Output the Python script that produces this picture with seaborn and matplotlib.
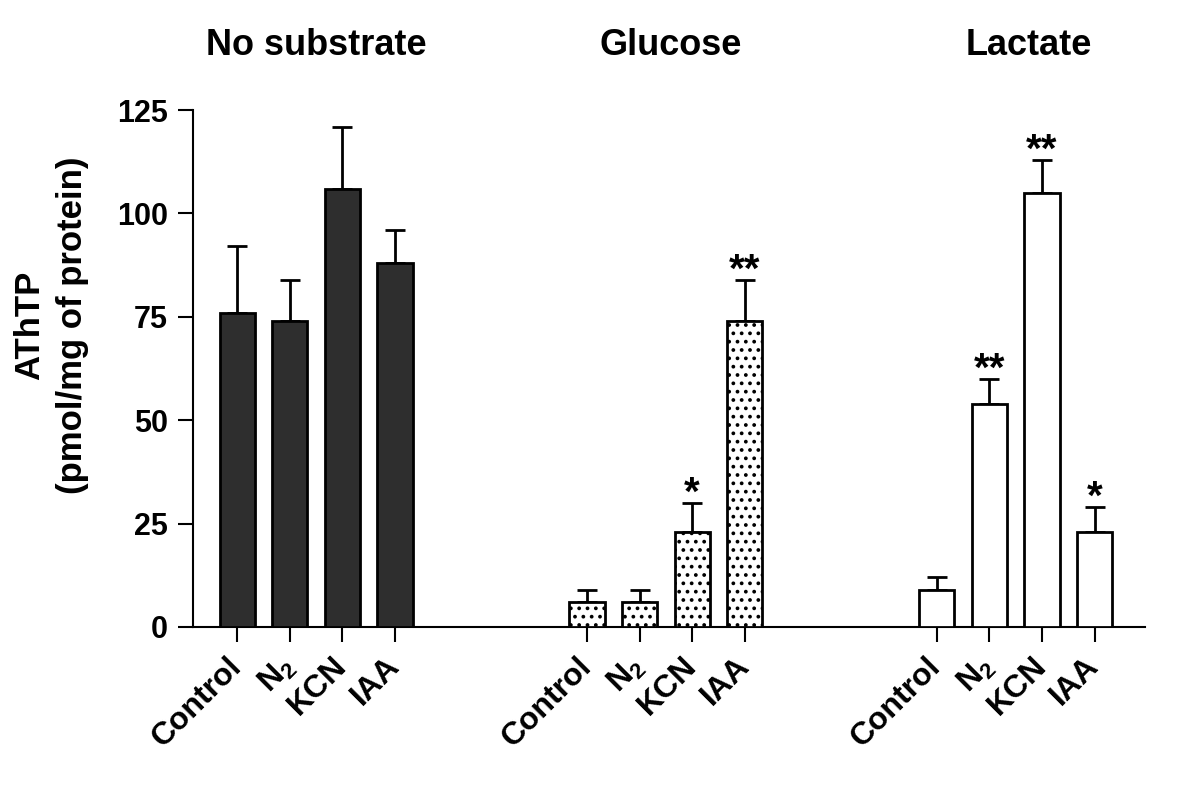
import seaborn as sns
import matplotlib.pyplot as plt
import matplotlib.transforms as mtransforms
import numpy as np
import pandas as pd

sns.set_style("ticks")
plt.rcParams['font.family'] = ['Liberation Sans', 'DejaVu Sans']
plt.rcParams['font.weight'] = 'bold'
plt.rcParams['mathtext.fontset'] = 'custom'
plt.rcParams['mathtext.bf'] = 'Liberation Sans:bold'
plt.rcParams['mathtext.rm'] = 'Liberation Sans:bold'
plt.rcParams['hatch.linewidth'] = 1.5
for key in ['text.color', 'axes.labelcolor', 'xtick.color', 'ytick.color', 'axes.edgecolor']:
    plt.rcParams[key] = 'black'

# data
groups = ["No substrate", "Glucose", "Lactate"]
treatments = ["Control", r"$\mathbf{N_2}$", "KCN", "IAA"]
no_substrate = [76, 74, 106, 88]
no_substrate_err = [16, 10, 15, 8]
glucose = [6, 6, 23, 74]
glucose_err = [3, 3, 7, 10]
lactate = [9, 54, 105, 23]
lactate_err = [3, 6, 8, 6]
glucose_stars = ["", "", "*", "**"]
lactate_stars = ["", "**", "**", "*"]

# layout
group_offsets = [0, 6.65, 13.3]
title_x = [1.5, 8.25, 15.05]
bar_colors = ["#2e2e2e", "white", "white"]
bar_hatches = [None, "..", None]

means = [no_substrate, glucose, lactate]
errs = [no_substrate_err, glucose_err, lactate_err]
stars = [["", "", "", ""], glucose_stars, lactate_stars]

fig = plt.figure(figsize=(12, 7.88), dpi=100)
ax = fig.add_axes([193 / 1200, 161 / 788, 952 / 1200, 517 / 788])

all_pos = []
for g, off in enumerate(group_offsets):
    pos = np.arange(len(treatments)) + off
    all_pos.extend(pos)
    df = pd.DataFrame({"pos": pos, "value": means[g]})
    sns.barplot(data=df, x="pos", y="value", native_scale=True, ax=ax,
                color=bar_colors[g], edgecolor="black", linewidth=2,
                width=0.67, errorbar=None, hatch=bar_hatches[g],
                saturation=1, zorder=3)
    ax.errorbar(pos, means[g], yerr=[np.zeros(len(pos)), errs[g]], fmt="none",
                ecolor="black", elinewidth=2, capsize=7, capthick=2, zorder=2)
    for x, m, e, s in zip(pos, means[g], errs[g], stars[g]):
        if s:
            ax.annotate(s, (x, m + e), xytext=(0, -7), textcoords="offset points",
                        ha="center", va="bottom", fontsize=29, fontweight="bold")

trans = mtransforms.blended_transform_factory(ax.transData, ax.transAxes)
for name, tx in zip(groups, title_x):
    ax.text(tx, 1.124, name, transform=trans, ha="center", va="center",
            fontsize=26, fontweight="bold")

ax.set_xlim(-0.84, 17.26)
ax.set_ylim(0, 125)
ax.set_yticks([0, 25, 50, 75, 100, 125])
ax.set_xticks(all_pos)
ax.set_xticklabels(treatments * 3, rotation=45, ha="right", va="center",
                   rotation_mode="anchor", fontsize=23, fontweight="bold")
ax.tick_params(axis="y", labelsize=22, length=11, width=1.5, pad=7)
ax.tick_params(axis="x", length=11, width=1.5, pad=14)
for lab in ax.get_yticklabels():
    lab.set_fontweight("bold")
ax.set_xlabel("")
ax.set_ylabel("")
sns.despine(ax=ax)
for sp in ["left", "bottom"]:
    ax.spines[sp].set_linewidth(1.5)

fig.text(51 / 1200, 1 - 325 / 788, "AThTP\n(pmol/mg of protein)", rotation=90,
         ha="center", va="center", fontsize=25, fontweight="bold", linespacing=1.4)

fig.savefig("out.png", dpi=100, facecolor="white")
